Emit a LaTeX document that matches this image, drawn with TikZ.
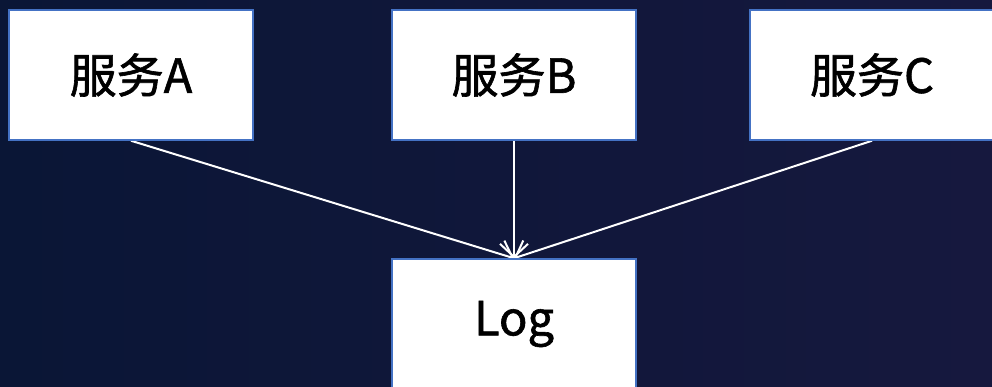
\documentclass[tikz,border=0pt]{standalone}
\usepackage{fontspec}
\setmainfont{Noto Sans CJK SC}[FakeBold=1.3]
\usetikzlibrary{arrows.meta}
\definecolor{bgL}{RGB}{10,22,54}
\definecolor{bgR}{RGB}{22,24,62}
\definecolor{edgeblue}{RGB}{68,114,196}
\pgfdeclarelayer{bg}
\pgfdeclarelayer{mid}
\pgfsetlayers{bg,mid,main}
\tikzset{
  svc/.style={draw=edgeblue, line width=1.5pt, fill=white, minimum width=244pt,
    minimum height=130pt, inner sep=0pt, text=black, font=\fontsize{47}{47}\selectfont},
  link/.style={draw=white, line width=2pt, -{Straight Barb[length=13pt,width=28pt]}}
}
\begin{document}
\begin{tikzpicture}[x=1pt,y=-1pt]
\useasboundingbox (0,0) rectangle (992,387);
\clip (0,0) rectangle (992,387);
\begin{pgfonlayer}{bg}
\shade[left color=bgL, right color=bgR] (0,0) rectangle (992,387);
\end{pgfonlayer}
\node[svc] (a) at (131,75) {服务A};
\node[svc] (b) at (514,75) {服务B};
\node[svc] (c) at (872,75) {服务C};
\node[svc] (log) at (514,324) {Log};
\begin{pgfonlayer}{mid}
\draw[link] (a.south) -- (log.north);
\draw[link] (b.south) -- (log.north);
\draw[link] (c.south) -- (log.north);
\end{pgfonlayer}
\end{tikzpicture}
\end{document}
